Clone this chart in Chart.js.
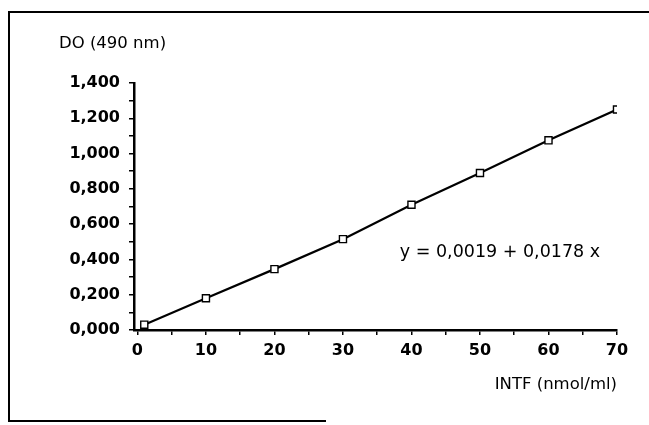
<!DOCTYPE html>
<html>
<head>
<meta charset="utf-8">
<script src="https://cdn.jsdelivr.net/npm/chart.js@4.4.1/dist/chart.umd.min.js"></script>
<style>
    body { margin: 0; background: #fff; }
    #wrap { position: relative; width: 649px; height: 425px; overflow: hidden; }
    #chart { position: absolute; left: 0; top: 0; }
    .frame { position: absolute; background: #000; }
</style>
</head>
<body>
<div id="wrap">
    <canvas id="chart" width="649" height="425"></canvas>
    <div class="frame" style="left:8px; top:11px; width:641px; height:2px;"></div>
    <div class="frame" style="left:8px; top:11px; width:2px; height:411px;"></div>
    <div class="frame" style="left:8px; top:420px; width:318px; height:2px;"></div>
</div>
<script>
const intfValues = [1, 10, 20, 30, 40, 50, 60, 70];
const doValues = [0.03, 0.18, 0.345, 0.515, 0.71, 0.89, 1.075, 1.25];
const xTicks = [0, 5, 10, 15, 20, 25, 30, 35, 40, 45, 50, 55, 60, 65, 70];
const yTicks = [0, 0.1, 0.2, 0.3, 0.4, 0.5, 0.6, 0.7, 0.8, 0.9, 1.0, 1.1, 1.2, 1.3, 1.4];
const yTitle = 'DO (490 nm)';
const xTitle = 'INTF (nmol/ml)';
const equation = 'y = 0,0019 + 0,0178 x';

class CalibrationChart {
    constructor() {
        this.chart = null;
        this.build();
    }

    formatDecimal(value) {
        return value.toFixed(3).replace('.', ',');
    }

    textPlugin() {
        return {
            id: 'chartTexts',
            afterDraw(chart) {
                const ctx = chart.ctx;
                const area = chart.chartArea;
                const x = chart.scales.x;
                const y = chart.scales.y;
                ctx.save();
                ctx.fillStyle = '#000';
                ctx.textBaseline = 'middle';

                ctx.font = '16.5px "DejaVu Sans"';
                ctx.textAlign = 'left';
                ctx.fillText(yTitle, area.left - 75, 44);

                ctx.textAlign = 'right';
                ctx.fillText(xTitle, area.right, 385);

                ctx.font = '17.5px "DejaVu Sans"';
                ctx.textAlign = 'left';
                ctx.fillText(equation, x.getPixelForValue(38.3), y.getPixelForValue(0.44));
                ctx.restore();
            }
        };
    }

    build() {
        const ctx = document.getElementById('chart').getContext('2d');
        const tickFont = { family: 'DejaVu Sans', size: 16, weight: 'bold' };

        this.chart = new Chart(ctx, {
            type: 'line',
            data: {
                datasets: [{
                    data: intfValues.map((v, i) => ({ x: v, y: doValues[i] })),
                    borderColor: '#000',
                    borderWidth: 2.2,
                    pointStyle: 'rect',
                    pointRadius: 5,
                    pointBackgroundColor: '#fff',
                    pointBorderColor: '#000',
                    pointBorderWidth: 1.4,
                    tension: 0,
                    fill: false
                }]
            },
            options: {
                responsive: false,
                animation: false,
                layout: { padding: { top: 83, right: 32, bottom: 0, left: 0 } },
                plugins: {
                    legend: { display: false },
                    tooltip: { enabled: false }
                },
                scales: {
                    x: {
                        type: 'linear',
                        min: -0.5,
                        max: 70,
                        afterBuildTicks: (scale) => { scale.ticks = xTicks.map(v => ({ value: v })); },
                        afterFit: (scale) => { scale.height = 95; },
                        border: { color: '#000', width: 2.5 },
                        grid: { drawOnChartArea: false, color: '#000', lineWidth: 1.5, tickLength: 5 },
                        ticks: {
                            autoSkip: false,
                            maxRotation: 0,
                            padding: 6,
                            color: '#000',
                            font: tickFont,
                            callback: (value) => (value % 10 === 0 ? String(value) : '')
                        }
                    },
                    y: {
                        min: 0,
                        max: 1.4,
                        afterBuildTicks: (scale) => { scale.ticks = yTicks.map(v => ({ value: v })); },
                        afterFit: (scale) => { scale.width = 134; },
                        border: { color: '#000', width: 2.5 },
                        grid: { drawOnChartArea: false, color: '#000', lineWidth: 1.5, tickLength: 5 },
                        ticks: {
                            autoSkip: false,
                            padding: 9,
                            color: '#000',
                            font: tickFont,
                            callback: (value, index) => (index % 2 === 0 ? this.formatDecimal(value) : '')
                        }
                    }
                }
            },
            plugins: [this.textPlugin()]
        });
    }
}

document.addEventListener('DOMContentLoaded', () => {
    window.app = new CalibrationChart();
});
</script>
</body>
</html>
